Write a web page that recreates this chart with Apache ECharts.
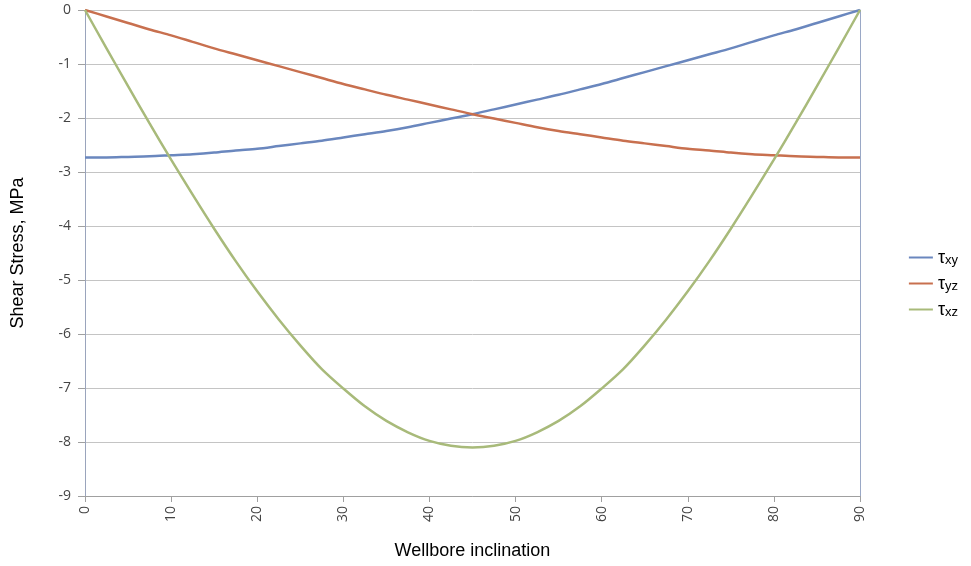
<!DOCTYPE html>
<html>
<head>
<meta charset="utf-8">
<script src="https://cdn.jsdelivr.net/npm/echarts@6/dist/echarts.min.js"></script>
<style>html,body{margin:0;padding:0;background:#fff}#c{width:971px;height:566px}</style>
</head>
<body>
<div id="c"></div>
<script>
var inclination = [0,2.5,5,7.5,10,12.5,15,17.5,20,22.5,25,27.5,30,32.5,35,37.5,40,42.5,45,47.5,50,52.5,55,57.5,60,62.5,65,67.5,70,72.5,75,77.5,80,82.5,85,87.5,90];
var tauXY = [-2.73,-2.73,-2.72,-2.71,-2.69,-2.67,-2.64,-2.60,-2.57,-2.52,-2.47,-2.42,-2.36,-2.30,-2.24,-2.17,-2.09,-2.01,-1.93,-1.84,-1.75,-1.66,-1.57,-1.47,-1.37,-1.26,-1.15,-1.04,-0.93,-0.82,-0.71,-0.59,-0.47,-0.36,-0.24,-0.12,0];
var tauYZ = [0,-0.12,-0.24,-0.36,-0.47,-0.59,-0.71,-0.82,-0.93,-1.04,-1.15,-1.26,-1.37,-1.47,-1.57,-1.66,-1.75,-1.84,-1.93,-2.01,-2.09,-2.17,-2.24,-2.30,-2.36,-2.42,-2.47,-2.52,-2.57,-2.60,-2.64,-2.67,-2.69,-2.71,-2.72,-2.73,-2.73];
var tauXZ = [0,-0.71,-1.41,-2.10,-2.77,-3.42,-4.05,-4.65,-5.21,-5.73,-6.21,-6.65,-7.01,-7.34,-7.61,-7.82,-7.98,-8.07,-8.10,-8.07,-7.98,-7.82,-7.61,-7.34,-7.01,-6.65,-6.21,-5.73,-5.21,-4.65,-4.05,-3.42,-2.77,-2.10,-1.41,-0.71,0];
var seriesNames = ['xy','yz','xz'];

function pairs(ys){ return inclination.map(function(x,i){return [x, ys[i]];}); }

var chart = echarts.init(document.getElementById('c'));
var colors = ['#6a87be','#c8704f','#a8ba7a'];
var lbl = {fontFamily:'Open Sans', fontSize:14, color:'#444'};
chart.setOption({
  animation:false,
  color: colors,
  grid:{left:85, right:111, top:10, bottom:70},
  legend:{
    orient:'vertical', right:8, top:244,
    itemWidth:24, itemHeight:2, itemGap:8,
    icon:'rect',
    data: seriesNames.map(function(n){return 'τ'+n;}),
    formatter:function(name){ return '{a|τ}{b|'+name.slice(1)+'}'; },
    textStyle:{
      rich:{
        a:{fontFamily:'Liberation Sans', fontSize:18, color:'#000', verticalAlign:'bottom'},
        b:{fontFamily:'Liberation Sans', fontSize:13, color:'#000', verticalAlign:'bottom', padding:[6,0,0,0]}
      }
    }
  },
  xAxis:{
    type:'value', min:0, max:90, interval:10,
    name:'Wellbore inclination', nameLocation:'middle', nameGap:46,
    nameTextStyle:{fontFamily:'Liberation Sans', fontSize:18, color:'#000'},
    axisLine:{onZero:false, lineStyle:{color:'#a0a0a0'}},
    axisTick:{show:true, length:6, lineStyle:{color:'#a0a0a0'}},
    axisLabel:Object.assign({rotate:90, margin:10}, lbl),
    splitLine:{show:false}
  },
  yAxis:[{
    type:'value', min:-9, max:0, interval:1,
    name:'Shear Stress, MPa', nameLocation:'middle', nameGap:58,
    nameTextStyle:{fontFamily:'Liberation Sans', fontSize:18, color:'#000'},
    axisLine:{show:true, onZero:false, lineStyle:{color:'#9aa4bc'}},
    axisTick:{show:true, length:7, lineStyle:{color:'#a0a0a0'}},
    axisLabel:Object.assign({margin:14}, lbl),
    splitLine:{show:true, lineStyle:{color:'#c4c4c4', width:1}}
  },{
    type:'value', min:-9, max:0, interval:1, position:'right',
    axisLine:{show:true, onZero:false, lineStyle:{color:'#9aa8c6'}},
    axisTick:{show:false}, axisLabel:{show:false}, splitLine:{show:false}
  }],
  series:[
    {name:'τxy', type:'line', data:pairs(tauXY), smooth:0.3, showSymbol:false, lineStyle:{width:2.5}},
    {name:'τyz', type:'line', data:pairs(tauYZ), smooth:0.3, showSymbol:false, lineStyle:{width:2.5}},
    {name:'τxz', type:'line', data:pairs(tauXZ), smooth:0.3, showSymbol:false, lineStyle:{width:2.5}}
  ]
});
</script>
</body>
</html>
